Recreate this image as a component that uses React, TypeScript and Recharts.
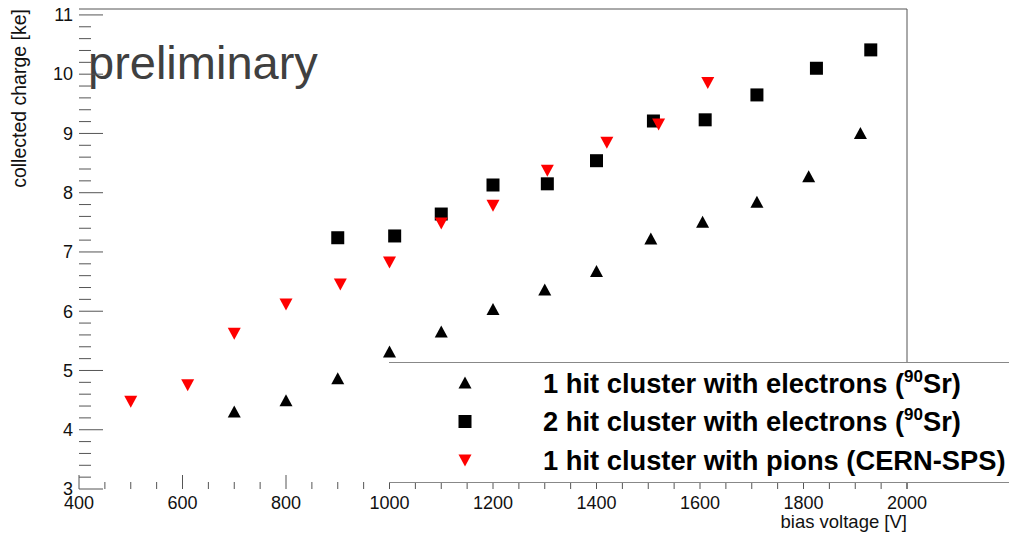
import { ScatterChart, Scatter, XAxis, YAxis, ReferenceLine, Legend } from "recharts";

// 1 hit cluster with electrons (90Sr)
const hit1Voltage = [700, 800, 900, 1000, 1100, 1200, 1300, 1400, 1505, 1605, 1710, 1810, 1910];
const hit1Charge = [4.3, 4.49, 4.86, 5.31, 5.65, 6.03, 6.36, 6.67, 7.22, 7.5, 7.84, 8.27, 9.0];

// 2 hit cluster with electrons (90Sr)
const hit2Voltage = [900, 1010, 1100, 1200, 1305, 1400, 1510, 1610, 1710, 1825, 1930];
const hit2Charge = [7.24, 7.27, 7.64, 8.13, 8.15, 8.54, 9.21, 9.23, 9.65, 10.1, 10.41];

// 1 hit cluster with pions (CERN-SPS)
const pionVoltage = [500, 610, 700, 800, 905, 1000, 1100, 1200, 1305, 1420, 1520, 1615];
const pionCharge = [4.48, 4.76, 5.63, 6.12, 6.46, 6.83, 7.49, 7.79, 8.38, 8.85, 9.16, 9.86];

const xMajorTicks = [400, 600, 800, 1000, 1200, 1400, 1600, 1800, 2000];
const yMajorTicks = [3, 4, 5, 6, 7, 8, 9, 10, 11];

const FONT = "'Liberation Sans', Arial, Helvetica, sans-serif";
const TICK_COLOR = "#555";

const toPoints = (xs: number[], ys: number[]) => xs.map((v, i) => ({ voltage: v, charge: ys[i] }));

const hit1Data = toPoints(hit1Voltage, hit1Charge);
const hit2Data = toPoints(hit2Voltage, hit2Charge);
const pionData = toPoints(pionVoltage, pionCharge);

// minor ticks: 4 subdivisions per x major, 5 per y major
const xTicks: number[] = [];
xMajorTicks.slice(0, -1).forEach((t, i) => {
  const step = (xMajorTicks[i + 1] - t) / 4;
  for (let k = 0; k < 4; k++) xTicks.push(t + k * step);
});
xTicks.push(xMajorTicks[xMajorTicks.length - 1]);

const yTicks: number[] = [];
yMajorTicks.slice(0, -1).forEach((t, i) => {
  const step = (yMajorTicks[i + 1] - t) / 5;
  for (let k = 0; k < 5; k++) yTicks.push(Math.round((t + k * step) * 10) / 10);
});
yTicks.push(yMajorTicks[yMajorTicks.length - 1]);

function XTick({ x, y, payload }: any) {
  const major = xMajorTicks.includes(payload.value);
  return (
    <g>
      <line x1={x} y1={y} x2={x} y2={y - (major ? 14 : 7)} stroke={TICK_COLOR} />
      {major && (
        <text x={x} y={y + 19.5} textAnchor="middle" fontSize={18} fontFamily={FONT} fill="#111">
          {payload.value}
        </text>
      )}
    </g>
  );
}

function YTick({ x, y, payload }: any) {
  const major = yMajorTicks.includes(payload.value);
  return (
    <g>
      <line x1={x} y1={y} x2={x + (major ? 24 : 12)} y2={y} stroke={TICK_COLOR} />
      {major && (
        <text x={x - 6} y={y} dy="0.35em" textAnchor="end" fontSize={18} fontFamily={FONT} fill="#111">
          {payload.value}
        </text>
      )}
    </g>
  );
}

function TriangleUp({ cx, cy, fill }: any) {
  return <polygon points={`${cx},${cy - 6.5} ${cx - 6.5},${cy + 5.5} ${cx + 6.5},${cy + 5.5}`} fill={fill} />;
}

function TriangleDown({ cx, cy, fill }: any) {
  return <polygon points={`${cx - 6.5},${cy - 5.5} ${cx + 6.5},${cy - 5.5} ${cx},${cy + 6.5}`} fill={fill} />;
}

function Square({ cx, cy, fill }: any) {
  return <rect x={cx - 6.5} y={cy - 6.5} width={13} height={13} fill={fill} />;
}

const legendRows = [
  { marker: "up", color: "#000", text: "1 hit cluster with electrons (", sup: "90", tail: "Sr)" },
  { marker: "square", color: "#000", text: "2 hit cluster with electrons (", sup: "90", tail: "Sr)" },
  { marker: "down", color: "#ff0000", text: "1 hit cluster with pions (CERN-SPS)", sup: "", tail: "" },
];

function LegendBox() {
  return (
    <div
      style={{
        background: "#fff",
        borderTop: "1px solid #888",
        borderBottom: "1px solid #888",
        boxSizing: "border-box",
        width: 620,
        height: 121,
      }}
    >
      <svg width={620} height={119}>
        {legendRows.map((row, i) => {
          const cy = 20 + i * 38.5;
          const cx = 76;
          return (
            <g key={row.text}>
              {row.marker === "up" && <TriangleUp cx={cx} cy={cy} fill={row.color} />}
              {row.marker === "square" && <Square cx={cx} cy={cy} fill={row.color} />}
              {row.marker === "down" && <TriangleDown cx={cx} cy={cy} fill={row.color} />}
              <text x={154} y={cy + 9.5} fontSize={27.3} fontWeight="bold" fontFamily={FONT} fill="#000">
                {row.text}
                {row.sup && (
                  <tspan fontSize={17} dy={-11}>
                    {row.sup}
                  </tspan>
                )}
                {row.tail && (
                  <tspan fontSize={27.3} dy={11}>
                    {row.tail}
                  </tspan>
                )}
              </text>
            </g>
          );
        })}
      </svg>
    </div>
  );
}

export default function App() {
  return (
    <div style={{ position: "absolute", left: 0, top: 0, background: "#fff" }}>
      <ScatterChart width={1009} height={533} margin={{ top: 9, right: 102, bottom: 0, left: 0 }}>
        <XAxis
          type="number"
          dataKey="voltage"
          domain={[400, 2000]}
          ticks={xTicks}
          interval={0}
          allowDataOverflow
          height={44}
          tickSize={0}
          tickMargin={0}
          axisLine={false}
          tickLine={false}
          tick={(p: any) => <XTick {...p} />}
        />
        <YAxis
          type="number"
          dataKey="charge"
          domain={[3, 11.1]}
          ticks={yTicks}
          interval={0}
          allowDataOverflow
          width={79}
          tickSize={0}
          tickMargin={0}
          axisLine={false}
          tickLine={false}
          tick={(p: any) => <YTick {...p} />}
        />
        <ReferenceLine y={11.1} stroke={TICK_COLOR} />
        <ReferenceLine x={2000} stroke={TICK_COLOR} />
        <Scatter name="1 hit electrons" data={hit1Data} fill="#000" shape={<TriangleUp />} isAnimationActive={false} />
        <Scatter name="2 hit electrons" data={hit2Data} fill="#000" shape={<Square />} isAnimationActive={false} />
        <Scatter name="1 hit pions" data={pionData} fill="#ff0000" shape={<TriangleDown />} isAnimationActive={false} />
        <Legend
          layout="horizontal"
          verticalAlign="middle"
          align="center"
          wrapperStyle={{ left: 389, top: 362, width: 620, height: 121 }}
          content={() => <LegendBox />}
        />
        <text x={88} y={79} fontSize={47} fontFamily={FONT} fill="#404040">
          preliminary
        </text>
        <text
          x={26}
          y={9}
          transform="rotate(-90 26 9)"
          textAnchor="end"
          fontSize={19.5}
          fontFamily={FONT}
          fill="#111"
        >
          collected charge [ke]
        </text>
        <text x={907} y={528} textAnchor="end" fontSize={18.5} fontFamily={FONT} fill="#111">
          bias voltage [V]
        </text>
      </ScatterChart>
    </div>
  );
}
